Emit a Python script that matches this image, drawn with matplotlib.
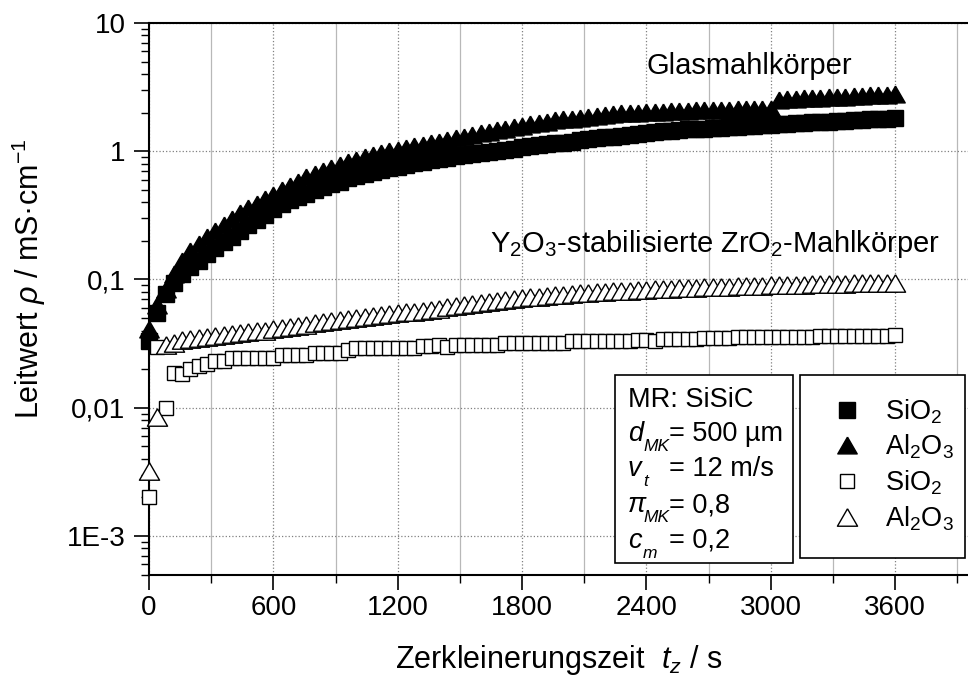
import numpy as np
import matplotlib
import matplotlib.pyplot as plt
from matplotlib.patches import Rectangle
from matplotlib.ticker import FixedLocator, LogLocator, NullFormatter, MultipleLocator

matplotlib.use("Agg")

plt.rcParams["font.family"] = ["Liberation Sans", "DejaVu Sans"]
plt.rcParams["mathtext.fontset"] = "custom"
plt.rcParams["mathtext.rm"] = "Liberation Sans"
plt.rcParams["mathtext.it"] = "Liberation Sans:italic"
plt.rcParams["mathtext.bf"] = "Liberation Sans:bold"

W, H = 968, 683

# sampling times (s), one reading every 40 s
time_s = np.arange(0, 3601, 40)

# conductivity in mS/cm
glass_sio2 = [
    0.033, 0.055, 0.077, 0.094, 0.110, 0.125, 0.140, 0.157, 0.176, 0.195,
    0.215, 0.238, 0.265, 0.290, 0.320, 0.355, 0.390, 0.415, 0.440, 0.465,
    0.495, 0.525, 0.555, 0.580, 0.615, 0.640, 0.665, 0.690, 0.715, 0.740,
    0.760, 0.785, 0.805, 0.830, 0.850, 0.870, 0.890, 0.915, 0.935, 0.950,
    0.970, 0.990, 1.01, 1.03, 1.05, 1.07, 1.09, 1.11, 1.13, 1.15,
    1.17, 1.19, 1.22, 1.24, 1.26, 1.28, 1.30, 1.32, 1.34, 1.36,
    1.38, 1.41, 1.43, 1.45, 1.47, 1.48, 1.49, 1.50, 1.51, 1.53,
    1.54, 1.55, 1.57, 1.58, 1.60, 1.61, 1.63, 1.64, 1.65, 1.66,
    1.68, 1.69, 1.70, 1.72, 1.73, 1.74, 1.76, 1.77, 1.79, 1.80,
    1.82,
]
glass_al2o3 = [
    0.041, 0.063, 0.085, 0.110, 0.140, 0.167, 0.190, 0.215, 0.240, 0.268,
    0.298, 0.330, 0.360, 0.390, 0.422, 0.455, 0.495, 0.535, 0.580, 0.625,
    0.665, 0.700, 0.740, 0.780, 0.820, 0.860, 0.900, 0.940, 0.970, 1.00,
    1.03, 1.06, 1.09, 1.12, 1.16, 1.19, 1.23, 1.27, 1.30, 1.34,
    1.38, 1.42, 1.46, 1.50, 1.54, 1.58, 1.62, 1.66, 1.70, 1.74,
    1.77, 1.80, 1.83, 1.86, 1.89, 1.92, 1.95, 1.97, 1.99, 2.00,
    2.01, 2.02, 2.04, 2.05, 2.06, 2.07, 2.08, 2.09, 2.10, 2.10,
    2.11, 2.12, 2.13, 2.14, 2.15, 2.15, 2.52, 2.54, 2.56, 2.58,
    2.60, 2.62, 2.63, 2.65, 2.67, 2.69, 2.71, 2.73, 2.75, 2.77,
    2.79,
]
zr_sio2 = [
    0.0020, 0.0300, 0.0100, 0.0187, 0.0182, 0.0199, 0.0211, 0.0220, 0.0231, 0.0231,
    0.0243, 0.0243, 0.0243, 0.0243, 0.0243, 0.0243, 0.0259, 0.0259, 0.0259, 0.0259,
    0.0269, 0.0269, 0.0269, 0.0269, 0.0280, 0.0294, 0.0294, 0.0294, 0.0294, 0.0294,
    0.0294, 0.0294, 0.0294, 0.0302, 0.0302, 0.0307, 0.0300, 0.0311, 0.0311, 0.0311,
    0.0311, 0.0311, 0.0311, 0.0321, 0.0321, 0.0321, 0.0321, 0.0321, 0.0321, 0.0321,
    0.0321, 0.0331, 0.0331, 0.0331, 0.0331, 0.0331, 0.0331, 0.0331, 0.0331, 0.0340,
    0.0340, 0.0330, 0.0343, 0.0343, 0.0343, 0.0343, 0.0343, 0.0348, 0.0348, 0.0348,
    0.0348, 0.0353, 0.0353, 0.0353, 0.0353, 0.0353, 0.0353, 0.0359, 0.0359, 0.0359,
    0.0359, 0.0362, 0.0362, 0.0362, 0.0362, 0.0362, 0.0362, 0.0362, 0.0362, 0.0362,
    0.0371,
]
zr_al2o3 = [
    0.0032, 0.0085, 0.0310, 0.0320, 0.0340, 0.0345, 0.0350, 0.0355, 0.0360, 0.0368,
    0.0375, 0.0380, 0.0388, 0.0395, 0.0400, 0.0408, 0.0415, 0.0425, 0.0435, 0.0445,
    0.0455, 0.0465, 0.0475, 0.0485, 0.0495, 0.0505, 0.0512, 0.0520, 0.0530, 0.0538,
    0.0545, 0.0555, 0.0562, 0.0570, 0.0580, 0.0590, 0.0605, 0.0620, 0.0630, 0.0645,
    0.0660, 0.0670, 0.0680, 0.0690, 0.0705, 0.0715, 0.0725, 0.0735, 0.0745, 0.0755,
    0.0762, 0.0770, 0.0778, 0.0786, 0.0793, 0.0800, 0.0810, 0.0815, 0.0820, 0.0828,
    0.0835, 0.0840, 0.0845, 0.0850, 0.0855, 0.0860, 0.0865, 0.0870, 0.0875, 0.0878,
    0.0880, 0.0885, 0.0888, 0.0890, 0.0895, 0.0900, 0.0903, 0.0906, 0.0910, 0.0913,
    0.0917, 0.0920, 0.0923, 0.0926, 0.0930, 0.0932, 0.0935, 0.0937, 0.0940, 0.0942,
    0.0944,
]

legend_labels = ["SiO$_2$", "Al$_2$O$_3$", "SiO$_2$", "Al$_2$O$_3$"]
y_ticks = [1e-3, 1e-2, 1e-1, 1, 10]
y_ticklabels = ["1E-3", "0,01", "0,1", "1", "10"]
x_ticks = [0, 600, 1200, 1800, 2400, 3000, 3600]
info_symbols = ["d", "v", "π", "c"]
info_subscripts = ["MK", "t", "MK", "m"]
info_values = ["= 500 µm", "= 12 m/s", "= 0,8", "= 0,2"]


def fx(px):
    return px / W


def fy(py):
    return 1 - py / H


# equilateral triangle like Origin's
tri = [(0, 0.433), (-0.5, -0.433), (0.5, -0.433), (0, 0.433)]

fig = plt.figure(figsize=(W / 100, H / 100), dpi=100)
ax = fig.add_axes([fx(149), fy(574.6), fx(968) - fx(149), fy(23) - fy(574.6)])

common = dict(linestyle="none", clip_on=False, zorder=3, markeredgewidth=1.0)
h1, = ax.plot(time_s, glass_sio2, marker="s", ms=11, color="black", **common)
h2, = ax.plot(time_s, glass_al2o3, marker=tri, ms=14, color="black", **common)
h3, = ax.plot(time_s, zr_sio2, marker="s", ms=10.5, mfc="white", mec="black", **common)
h4, = ax.plot(time_s, zr_al2o3, marker=tri, ms=14.5, mfc="white", mec="black", **common)

ax.set_yscale("log")
ax.set_ylim(5e-4, 10)
ax.set_xlim(0, (968 - 149) / (746 / 3600))

ax.yaxis.set_major_locator(FixedLocator(y_ticks))
ax.set_yticklabels(y_ticklabels)
ax.yaxis.set_minor_locator(LogLocator(base=10, subs=np.arange(2, 10)))
ax.yaxis.set_minor_formatter(NullFormatter())
ax.set_xticks(x_ticks)
ax.xaxis.set_minor_locator(MultipleLocator(300))

ax.tick_params(which="major", direction="out", length=11, width=1.2, labelsize=20, pad=6)
ax.tick_params(axis="x", which="major", pad=4)
ax.tick_params(which="minor", direction="out", length=5.5, width=1.0)
ax.tick_params(top=False, right=False)

for side in ["left", "bottom", "top"]:
    ax.spines[side].set_linewidth(1.5)
ax.spines["right"].set_visible(False)

ax.set_axisbelow(True)
ax.xaxis.grid(True, which="major", linestyle=":", color="#808080", linewidth=0.9)
ax.xaxis.grid(True, which="minor", linestyle="-", color="#b8b8b8", linewidth=0.9)
ax.yaxis.grid(True, which="major", linestyle=":", color="#808080", linewidth=0.9)

ax.set_xlabel("Zerkleinerungszeit  $t_z$ / s", fontsize=22)
ax.xaxis.set_label_coords(0.5, -0.124)
ax.set_ylabel("Leitwert $\\rho$ / mS·cm$^{-1}$", fontsize=22)
ax.yaxis.set_label_coords(-0.123, 0.536)

ax.text(2400, 4.0, "Glasmahlkörper", fontsize=21, ha="left", va="baseline")
ax.text(3817, 0.163, "Y$_2$O$_3$-stabilisierte ZrO$_2$-Mahlkörper",
        fontsize=21, ha="right", va="baseline")

# parameter box
ax.add_patch(Rectangle((fx(615), fy(563)), fx(793) - fx(615), fy(375) - fy(563),
                       transform=fig.transFigure, facecolor="white",
                       edgecolor="black", linewidth=1.2, zorder=4, clip_on=False))
ax.text(fx(628), fy(407), "MR: SiSiC", fontsize=19.5, va="baseline",
        transform=fig.transFigure, zorder=6)
for i, (sym, sub, val) in enumerate(zip(info_symbols, info_subscripts, info_values)):
    base = 441 + i * 35.5
    ax.text(fx(628), fy(base), sym, fontsize=19.5, style="italic", va="baseline",
            transform=fig.transFigure, zorder=6)
    ax.text(fx(643), fy(base + 10), sub, fontsize=12.5, style="italic", va="baseline",
            transform=fig.transFigure, zorder=6)
    ax.text(fx(669), fy(base), val, fontsize=19.5, va="baseline",
            transform=fig.transFigure, zorder=6)

# legend box drawn separately so its padding can match
ax.add_patch(Rectangle((fx(800), fy(558)), fx(965) - fx(800), fy(375) - fy(558),
                       transform=fig.transFigure, facecolor="white",
                       edgecolor="black", linewidth=1.2, zorder=4, clip_on=False))
leg = ax.legend([h1, h2, h3, h4], legend_labels, loc="center left",
                bbox_to_anchor=(fx(827), fy(465)), bbox_transform=fig.transFigure,
                fontsize=19.5, frameon=False, borderpad=0, handlelength=1.5,
                handletextpad=0.65, labelspacing=0.26, borderaxespad=0)
leg.set_zorder(10)

fig.savefig("out.png", dpi=100)
